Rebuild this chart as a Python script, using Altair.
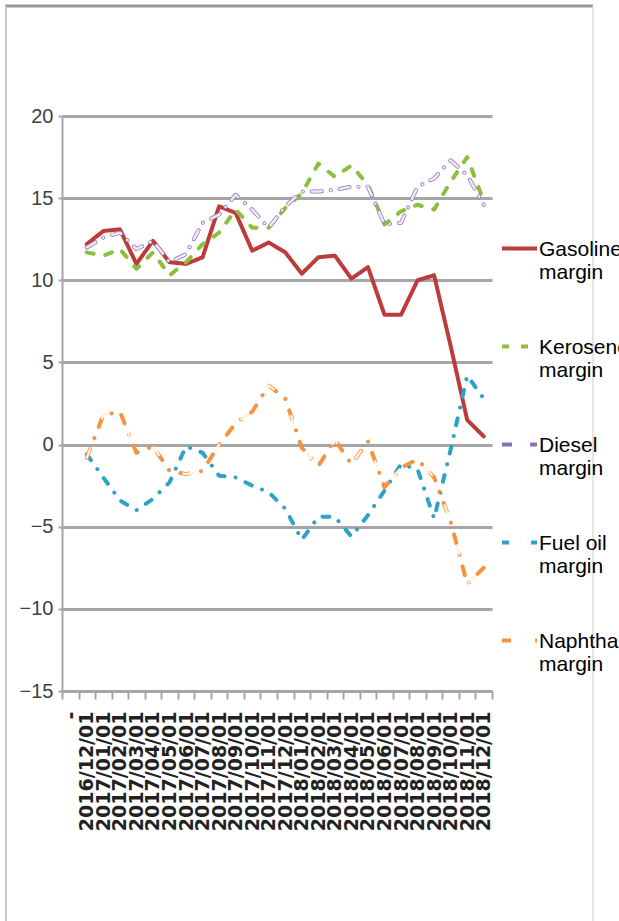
import altair as alt
import pandas as pd

# Monthly refining margins (first category is a blank placeholder row)
months = [
    "-", "2016/12/01",
    "2017/01/01", "2017/02/01", "2017/03/01", "2017/04/01", "2017/05/01", "2017/06/01",
    "2017/07/01", "2017/08/01", "2017/09/01", "2017/10/01", "2017/11/01", "2017/12/01",
    "2018/01/01", "2018/02/01", "2018/03/01", "2018/04/01", "2018/05/01", "2018/06/01",
    "2018/07/01", "2018/08/01", "2018/09/01", "2018/10/01", "2018/11/01", "2018/12/01",
]
gasoline = [None, 12.2, 13.0, 13.1, 11.0, 12.4, 11.1, 11.0, 11.4, 14.5, 14.1, 11.8, 12.3,
            11.7, 10.4, 11.4, 11.5, 10.1, 10.8, 7.9, 7.9, 10.0, 10.3, 6.0, 1.5, 0.5]
kerosene = [None, 11.7, 11.5, 11.9, 10.7, 11.7, 10.3, 11.1, 12.2, 12.9, 14.3, 13.2, 13.2,
            14.4, 15.3, 17.1, 16.3, 17.0, 15.8, 13.4, 14.2, 14.6, 14.3, 16.0, 17.5, 14.8]
diesel = [None, 12.0, 12.6, 12.9, 11.9, 12.4, 11.1, 11.6, 13.5, 14.0, 15.2, 14.3, 13.2,
          14.5, 15.4, 15.4, 15.5, 15.7, 15.7, 13.4, 13.5, 15.7, 16.2, 17.3, 16.4, 14.6]
fuel_oil = [None, -0.6, -2.0, -3.4, -4.0, -3.3, -2.3, -0.1, -0.5, -1.9, -2.0, -2.5, -2.9,
            -3.9, -5.8, -4.4, -4.4, -5.6, -4.3, -2.8, -1.2, -1.5, -4.5, -0.3, 4.2, 2.8]
naphtha = [None, -0.8, 1.8, 2.0, -0.5, -0.1, -1.6, -1.8, -1.6, 0.0, 1.3, 2.0, 3.6,
           2.8, -0.2, -1.3, 0.3, -1.2, 0.2, -2.6, -1.4, -0.9, -2.0, -4.7, -8.5, -7.5]

series_names = ["Gasoline margin", "Kerosene margin", "Diesel margin",
                "Fuel oil margin", "Naphtha margin"]
series_values = [gasoline, kerosene, diesel, fuel_oil, naphtha]
series_colors = ["#BE3B3A", "#8DBF3F", "#8A70BC", "#2EA3C6", "#F7923E"]
series_dashes = [[1, 0], [7, 12], [10, 9, 0.1, 9], [7, 11, 0.1, 11], [9, 12, 0.1, 12]]
series_widths = [4, 4, 6, 4, 5.5]
y_ticks = [-15, -10, -5, 0, 5, 10, 15, 20]

rows = []
for name, vals in zip(series_names, series_values):
    for m, v in zip(months, vals):
        if v is not None:
            rows.append({"month": m, "series": name, "value": v})
df = pd.DataFrame(rows)

grid_gray = "#A6A6A6"

x_enc = alt.X(
    "month:N",
    sort=months,
    scale=alt.Scale(type="band", domain=months, paddingInner=0, paddingOuter=0),
    axis=alt.Axis(
        title=None, labelAngle=270, labelAlign="right", labelBaseline="middle",
        labelFont="DejaVu Sans", labelFontWeight="bold", labelFontSize=19,
        labelColor="#222222", labelPadding=12, labelOverlap=False, labelLimit=0,
        tickBand="extent", tickSize=8, tickWidth=2, tickColor=grid_gray,
        domainColor=grid_gray, domainWidth=3, grid=False,
    ),
)
y_enc = alt.Y(
    "value:Q",
    scale=alt.Scale(domain=[-15, 20], nice=False, zero=False),
    axis=alt.Axis(
        title=None, values=y_ticks, grid=True, gridColor=grid_gray, gridWidth=3,
        domainColor=grid_gray, domainWidth=2, tickColor=grid_gray, tickSize=4,
        tickWidth=2, labelFont="Liberation Sans Narrow, Liberation Sans, sans-serif",
        labelFontSize=20, labelColor="#404040", labelPadding=5,
    ),
)

lines = alt.Chart(df).mark_line(
    strokeCap="round", strokeJoin="round"
).encode(
    x=x_enc,
    y=y_enc,
    color=alt.Color(
        "series:N",
        sort=series_names,
        scale=alt.Scale(domain=series_names, range=series_colors),
        legend=alt.Legend(
            title=None, orient="none", legendX=438, legendY=103, direction="vertical",
            symbolType="M-1,0.57L1,0.57", symbolSize=1225, symbolStrokeWidth=5,
            labelFont="Liberation Sans", labelFontSize=21, labelColor="#000000",
            labelBaseline="top", labelOffset=0, labelLimit=0, rowPadding=34, padding=0,
            labelExpr="[replace(datum.label, ' margin', ''), 'margin']",
        ),
    ),
    strokeDash=alt.StrokeDash(
        "series:N",
        sort=series_names,
        scale=alt.Scale(domain=series_names, range=series_dashes),
        legend=alt.Legend(title=None),
    ),
    strokeWidth=alt.StrokeWidth(
        "series:N",
        scale=alt.Scale(domain=series_names, range=series_widths),
        legend=None,
    ),
    order=alt.Order("month:N"),
)

# Pale cores give the diesel and naphtha dashes their hollow look
diesel_core = alt.Chart(df).transform_filter(
    alt.datum.series == "Diesel margin"
).mark_line(
    strokeWidth=2.6, strokeCap="round", strokeJoin="round", color="#EEE9F6",
    strokeDash=[10, 9, 0.1, 9],
).encode(x=x_enc, y=y_enc)

naphtha_core = alt.Chart(df).transform_filter(
    alt.datum.series == "Naphtha margin"
).mark_line(
    strokeWidth=2.4, strokeCap="round", strokeJoin="round", color="#FFF1E4",
    strokeDash=[9, 33.1],
).encode(x=x_enc, y=y_enc)

# Outer frame of the chart
frame_df = pd.DataFrame({"k": [0]})
frame_top = alt.Chart(frame_df).mark_rule(color="#9A9A9A", strokeWidth=3).encode(
    x=alt.value(-57), x2=alt.value(531), y=alt.value(-110)
)
frame_left = alt.Chart(frame_df).mark_rule(color="#C8C8C8", strokeWidth=2).encode(
    x=alt.value(-56), y=alt.value(-110), y2=alt.value(810)
)
frame_right = alt.Chart(frame_df).mark_rule(color="#DCDCDC", strokeWidth=1.5).encode(
    x=alt.value(531), y=alt.value(-110), y2=alt.value(810)
)

chart = alt.layer(
    lines, diesel_core, naphtha_core, frame_top, frame_left, frame_right
).properties(
    width=430,
    height=575,
    autosize=alt.AutoSizeParams(type="none"),
    padding={"left": 62, "top": 116, "right": 127, "bottom": 230},
    background="white",
).configure_view(stroke=None)

chart.save("out.html", embed_options={"renderer": "svg", "actions": False})
